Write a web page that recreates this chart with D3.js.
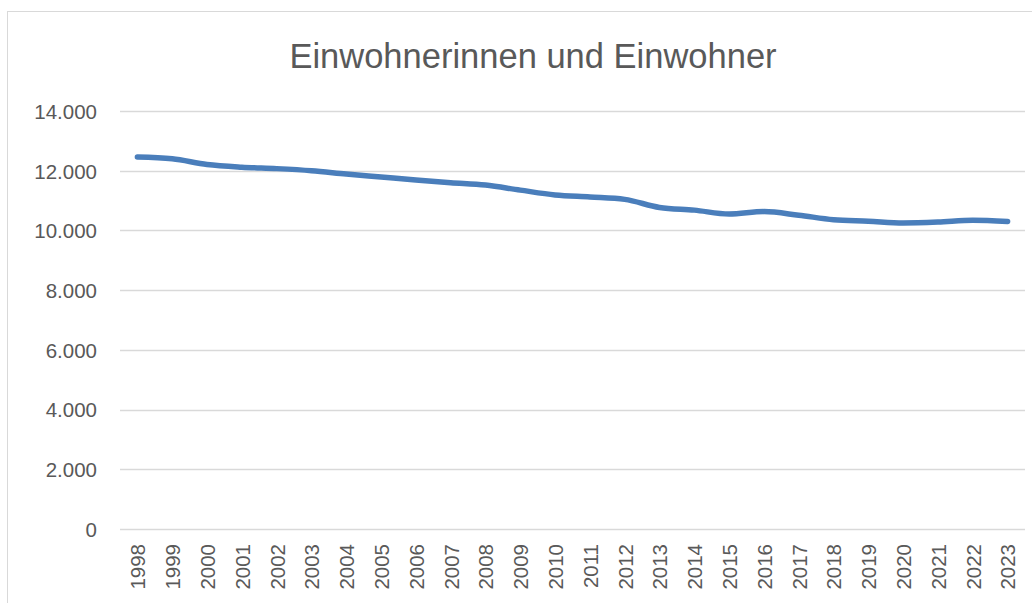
<!DOCTYPE html>
<html>
<head>
<meta charset="utf-8">
<script src="https://cdn.jsdelivr.net/npm/d3@7"></script>
<style>
  body { margin: 0; background: #fff; }
  svg { display: block; }
</style>
</head>
<body>
<div id="chart"></div>
<script>
// data
var years = ["1998", "1999", "2000", "2001", "2002", "2003", "2004", "2005", "2006", "2007", "2008", "2009", "2010",
    "2011", "2012", "2013", "2014", "2015", "2016", "2017", "2018", "2019", "2020", "2021", "2022", "2023"];
var einwohner = [12460, 12400, 12210, 12120, 12070, 12000, 11890, 11790, 11690, 11600, 11520, 11350, 11190,
    11120, 11040, 10770, 10680, 10550, 10630, 10510, 10360, 10310, 10250, 10280, 10340, 10300];
var yTicks = [0, 2000, 4000, 6000, 8000, 10000, 12000, 14000];
var title = "Einwohnerinnen und Einwohner";

var width = 1032, height = 603;
var margin = {top: 111, right: 7, bottom: 74, left: 120};

var svg = d3.select("#chart")
    .append("svg")
    .attr("width", width)
    .attr("height", height);

// chart area border
svg.append("rect")
    .attr("x", 7.5)
    .attr("y", 11.5)
    .attr("width", width + 10)
    .attr("height", height + 10)
    .attr("fill", "none")
    .attr("stroke", "#d9d9d9")
    .attr("stroke-width", 1);

var x = d3.scalePoint()
    .domain(years)
    .range([margin.left, width - margin.right])
    .padding(0.5);

var y = d3.scaleLinear()
    .domain([0, 14000])
    .range([height - margin.bottom, margin.top]);

var fmt = function (d) {
    return d3.format(",")(d).replace(/,/g, ".");
};

// gridlines
svg.append("g")
    .selectAll("line")
    .data(yTicks)
    .enter()
    .append("line")
    .attr("x1", margin.left)
    .attr("x2", width - margin.right)
    .attr("y1", function (d) { return Math.round(y(d)) + 0.5; })
    .attr("y2", function (d) { return Math.round(y(d)) + 0.5; })
    .attr("stroke", "#d9d9d9")
    .attr("stroke-width", 1.3);

// y axis labels
var yAxis = d3.axisLeft(y)
    .tickValues(yTicks)
    .tickFormat(fmt)
    .tickSize(0)
    .tickPadding(0);
svg.append("g")
    .attr("transform", "translate(97,0)")
    .call(yAxis)
    .call(function (g) { g.select(".domain").remove(); })
    .selectAll("text")
    .attr("fill", "#595959")
    .attr("font-family", "Liberation Sans, Arial, sans-serif")
    .attr("font-size", "20.5px")
    .attr("dy", "0.36em");

// x axis labels, rotated
var xAxis = d3.axisBottom(x).tickSize(0).tickPadding(0);
svg.append("g")
    .attr("transform", "translate(0," + (height - margin.bottom) + ")")
    .call(xAxis)
    .call(function (g) { g.select(".domain").remove(); })
    .selectAll("text")
    .attr("fill", "#595959")
    .attr("font-family", "Liberation Sans, Arial, sans-serif")
    .attr("font-size", "20.5px")
    .attr("text-anchor", "end")
    .attr("transform", "rotate(-90)")
    .attr("x", -15)
    .attr("y", 0)
    .attr("dy", "0.36em");

// the line
var line = d3.line()
    .x(function (d, i) { return x(years[i]); })
    .y(function (d) { return y(d); })
    .curve(d3.curveMonotoneX);

svg.append("path")
    .datum(einwohner)
    .attr("d", line)
    .attr("fill", "none")
    .attr("stroke", "#4a7ebb")
    .attr("stroke-width", 5.5)
    .attr("stroke-linecap", "round")
    .attr("stroke-linejoin", "round");

// title
svg.append("text")
    .attr("x", 533)
    .attr("y", 68)
    .attr("text-anchor", "middle")
    .attr("fill", "#595959")
    .attr("font-family", "Liberation Sans, Arial, sans-serif")
    .attr("font-size", "34.5px")
    .text(title);
</script>
</body>
</html>
